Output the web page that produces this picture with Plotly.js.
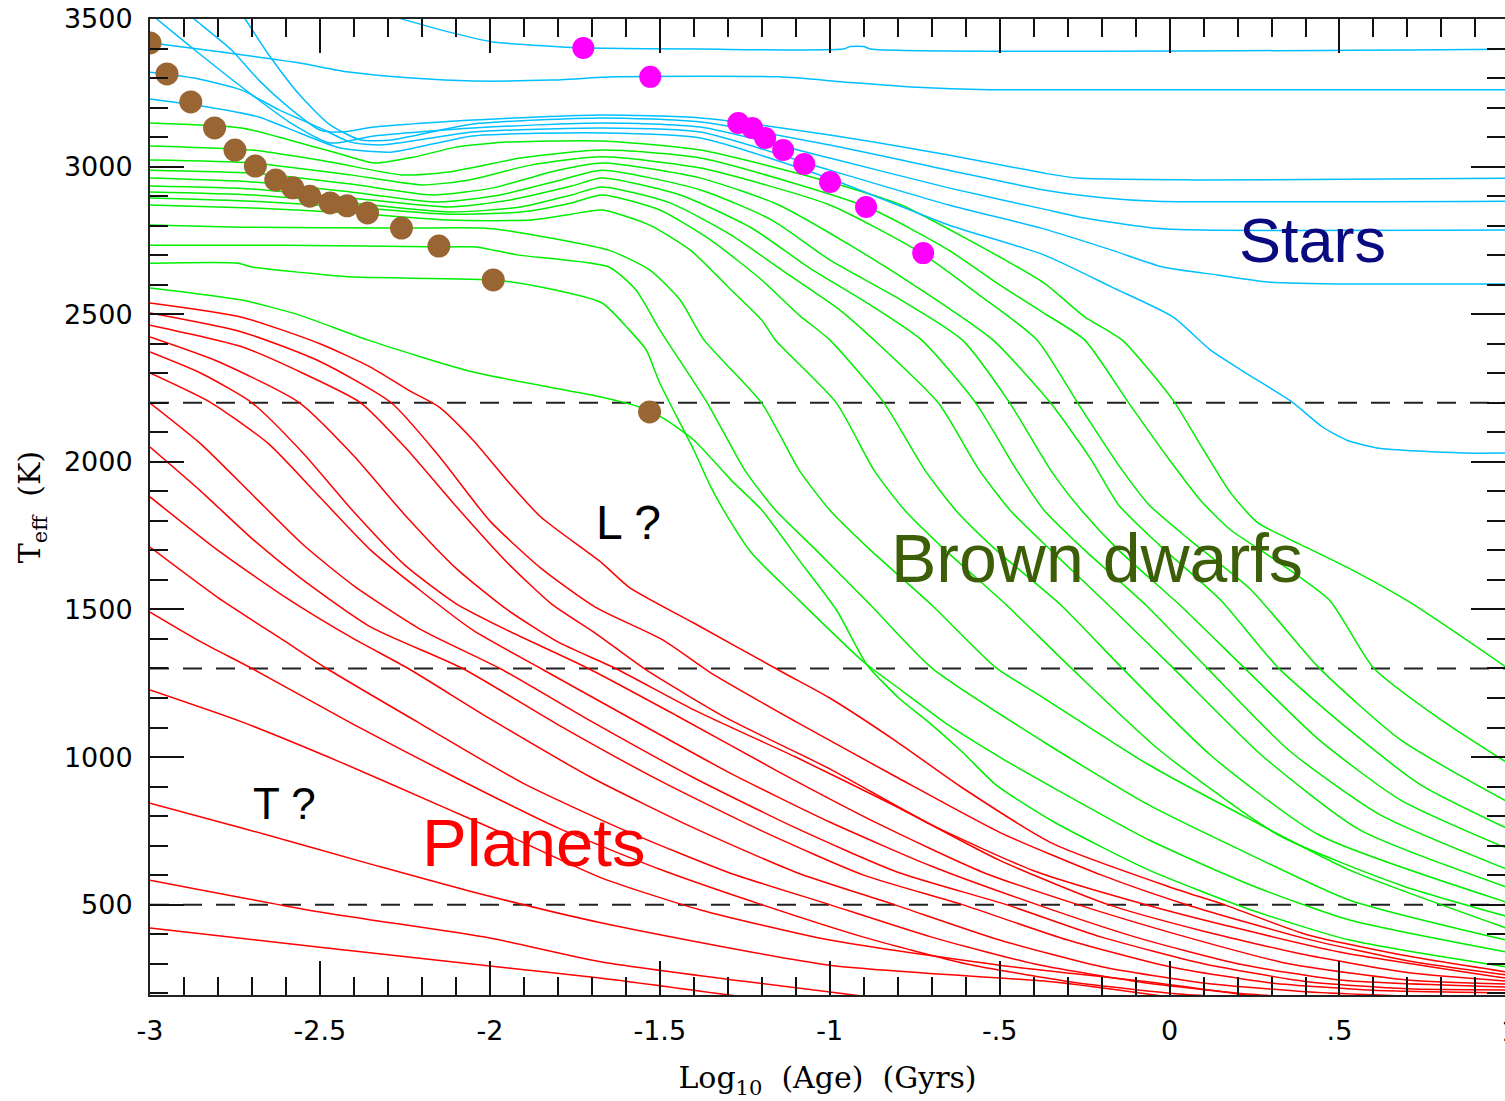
<!DOCTYPE html>
<html><head><meta charset="utf-8">
<script src="https://cdn.plot.ly/plotly-3.0.1.min.js"></script>
<style>html,body{margin:0;padding:0;background:#fff}</style>
</head><body><div id="chart" style="width:1505px;height:1101px"></div>
<script>
// ---- Stars (blue) : log10 age [Gyr] and Teff [K]
const starAges = [
  [-2.35,-2.25,-2.11,-1.99,-1.82,-1.72,-1.38,-0.96,-0.94,-0.90,-0.88,1.0],
  [-3.0,-2.79,-2.56,-2.42,-2.23,-2.05,-1.82,-1.63,-1.15,-0.96,-0.76,-0.53,1.0],
  [-2.92,-2.87,-2.76,-2.68,-2.59,-2.50,-2.44,-2.34,-2.05,-1.67,-1.38,-1.0,-0.65,-0.37,-0.27,0.07,0.52,1.0],
  [-2.77,-2.72,-2.65,-2.56,-2.47,-2.38,-2.29,-2.05,-1.67,-1.38,-1.0,-0.65,-0.37,-0.19,-0.04,1.0],
  [-3.0,-2.98,-2.85,-2.70,-2.59,-2.47,-2.34,-2.05,-1.67,-1.38,-1.0,-0.65,-0.37,-0.25,-0.05,0.10,1.0],
  [-3.0,-2.87,-2.73,-2.62,-2.50,-2.41,-2.32,-2.05,-1.67,-1.38,-1.0,-0.65,-0.37,-0.17,-0.02,0.14,0.29,0.54,1.0],
  [-3.0,-2.83,-2.68,-2.56,-2.44,-2.29,-2.05,-1.67,-1.38,-1.0,-0.65,-0.37,-0.17,0.01,0.12,0.22,0.36,0.45,0.52,0.61,0.86,1.0]
];
const starTeffs = [
  [3530,3497,3453,3422,3408,3402,3398,3398,3407,3407,3398,3398],
  [3420,3388,3351,3321,3300,3290,3293,3304,3304,3287,3270,3260,3260],
  [3548,3500,3395,3293,3199,3124,3117,3134,3158,3175,3165,3107,3039,2978,2961,2955,2957,2961],
  [3585,3500,3378,3243,3141,3090,3090,3144,3165,3151,3073,2988,2921,2894,2883,2883],
  [3520,3500,3378,3243,3151,3080,3104,3131,3148,3134,3029,2928,2856,2826,2792,2785,2785],
  [3320,3300,3259,3192,3131,3083,3073,3117,3131,3117,2988,2870,2789,2717,2660,2633,2609,2602,2602],
  [3229,3202,3168,3114,3063,3049,3104,3114,3097,2960,2802,2701,2592,2491,2379,2304,2203,2118,2074,2047,2030,2030]
];

// ---- Brown dwarfs (green)
const dwarfAges = [
  [-3.0,-2.73,-2.59,-2.45,-2.34,-2.22,-2.10,-1.95,-1.67,-1.38,-1.0,-0.79,-0.59,-0.37,-0.25,-0.14,0.01,0.10,0.18,0.26,0.34,0.52,0.71,0.99],
  [-3.0,-2.70,-2.47,-2.26,-2.12,-1.91,-1.67,-1.38,-0.89,-0.65,-0.50,-0.37,-0.25,-0.12,0.0,0.09,0.18,0.29,0.47,0.60,0.80,0.99],
  [-3.0,-2.70,-2.41,-2.20,-2.06,-1.88,-1.67,-1.38,-1.0,-0.73,-0.56,-0.39,-0.27,-0.15,-0.06,0.06,0.24,0.44,0.68,0.99],
  [-3.0,-2.70,-2.41,-2.17,-1.99,-1.82,-1.67,-1.38,-1.15,-0.94,-0.73,-0.52,-0.35,-0.23,-0.15,-0.03,0.15,0.32,0.53,0.74,0.99],
  [-3.0,-2.70,-2.41,-2.15,-1.97,-1.79,-1.67,-1.38,-1.17,-1.0,-0.79,-0.61,-0.47,-0.35,-0.26,-0.15,0.03,0.22,0.44,0.68,0.99],
  [-3.0,-2.70,-2.41,-2.12,-1.94,-1.76,-1.67,-1.44,-1.23,-1.06,-0.88,-0.73,-0.57,-0.45,-0.37,-0.25,-0.07,0.11,0.35,0.62,0.99],
  [-3.0,-2.70,-2.41,-2.12,-1.91,-1.76,-1.67,-1.47,-1.29,-1.12,-0.97,-0.87,-0.68,-0.56,-0.47,-0.35,-0.18,0.01,0.27,0.56,0.99],
  [-3.0,-2.70,-2.41,-2.12,-1.91,-1.76,-1.67,-1.50,-1.35,-1.20,-1.09,-1.0,-0.84,-0.72,-0.63,-0.51,-0.32,-0.14,0.12,0.44,0.99],
  [-3.0,-2.70,-2.41,-2.12,-1.88,-1.76,-1.67,-1.53,-1.41,-1.29,-1.20,-1.16,-0.98,-0.87,-0.78,-0.66,-0.48,-0.29,-0.03,0.32,0.68,0.99],
  [-3.0,-2.73,-2.26,-2.02,-1.92,-1.65,-1.53,-1.44,-1.37,-1.20,-1.09,-1.0,-0.88,-0.70,-0.51,-0.37,-0.06,0.24,0.53,0.99],
  [-3.0,-2.61,-2.12,-2.04,-1.92,-1.65,-1.57,-1.50,-1.36,-1.25,-1.16,-1.04,-0.88,-0.70,-0.37,-0.06,0.24,0.53,0.99],
  [-3.0,-2.74,-2.70,-2.48,-2.40,-1.99,-1.85,-1.67,-1.59,-1.54,-1.50,-1.40,-1.35,-1.30,-1.23,-1.10,-0.90,-0.79,-0.65,-0.50,-0.34,-0.06,0.24,0.53,0.99],
  [-3.0,-2.73,-2.56,-2.36,-2.05,-1.67,-1.56,-1.49,-1.40,-1.29,-1.20,-1.09,-0.98,-0.89,-0.79,-0.71,-0.61,-0.51,-0.34,-0.06,0.24,0.53,0.99]
];
const dwarfTeffs = [
  [3148,3131,3090,3046,3012,3033,3066,3083,3087,3056,2948,2870,2751,2606,2491,2413,2209,2040,1894,1793,1745,1644,1522,1305],
  [3070,3056,3016,2972,2982,3029,3056,3029,2863,2717,2599,2504,2413,2199,2006,1871,1769,1684,1532,1302,1125,983],
  [3022,3012,2972,2938,2955,3005,3033,2995,2870,2707,2565,2413,2199,1989,1854,1735,1566,1302,1058,851],
  [2988,2978,2941,2904,2928,2982,3012,2961,2870,2734,2582,2413,2199,2006,1854,1718,1532,1302,1091,905,760],
  [2961,2948,2914,2880,2904,2955,2988,2921,2819,2684,2548,2413,2199,1972,1837,1701,1515,1302,1058,854,692],
  [2934,2924,2894,2863,2887,2934,2961,2904,2792,2657,2531,2413,2199,1972,1837,1701,1515,1302,1024,804,621],
  [2914,2904,2877,2846,2863,2904,2931,2877,2768,2633,2514,2413,2199,1972,1837,1701,1515,1302,1007,753,560],
  [2894,2883,2863,2839,2846,2877,2904,2853,2751,2616,2497,2413,2199,1972,1837,1701,1515,1302,1007,736,509],
  [2870,2860,2843,2819,2819,2839,2853,2802,2717,2582,2480,2413,2199,1972,1837,1701,1515,1302,1024,736,566,461],
  [2802,2795,2792,2792,2778,2717,2650,2548,2413,2199,1972,1837,1701,1515,1302,1200,973,787,617,421],
  [2734,2734,2728,2728,2701,2660,2582,2447,2199,1972,1837,1701,1515,1302,1051,837,668,515,380],
  [2673,2673,2660,2633,2626,2616,2592,2538,2447,2379,2267,2040,1915,1813,1691,1542,1322,1227,1108,1000,895,719,566,448,340],
  [2589,2548,2497,2413,2304,2219,2186,2148,2074,1938,1837,1667,1498,1312,1193,1119,1017,905,780,617,482,380,289]
];

// ---- Planets (red)
const planetAges = [
  [-3.0,-2.73,-2.50,-2.35,-2.24,-2.15,-2.05,-1.95,-1.85,-1.67,-1.59,-1.40,-1.14,-1.0,-0.80,-0.61,-0.34,0.0,0.16,0.4,0.68,0.99],
  [-3.0,-2.73,-2.50,-2.29,-2.15,-2.0,-1.85,-1.69,-1.49,-1.35,-1.1,-0.8,-0.5,-0.2,0.05,0.4,0.7,0.99],
  [-3.0,-2.73,-2.55,-2.38,-2.25,-2.10,-1.95,-1.82,-1.69,-1.54,-1.3,-1.0,-0.7,-0.4,-0.07,0.2,0.5,0.99],
  [-3.0,-2.80,-2.56,-2.40,-2.25,-2.10,-1.95,-1.80,-1.63,-1.4,-1.1,-0.8,-0.5,-0.18,0.1,0.4,0.7,0.99],
  [-3.0,-2.85,-2.70,-2.55,-2.40,-2.25,-2.10,-1.95,-1.71,-1.45,-1.15,-0.85,-0.55,-0.27,0.05,0.35,0.7,0.99],
  [-3.0,-2.82,-2.65,-2.50,-2.35,-2.20,-2.05,-1.85,-1.6,-1.3,-1.0,-0.7,-0.39,-0.1,0.2,0.5,0.99],
  [-3.0,-2.85,-2.70,-2.55,-2.40,-2.20,-1.97,-1.7,-1.4,-1.1,-0.8,-0.48,-0.2,0.1,0.4,0.7,0.99],
  [-3.0,-2.85,-2.70,-2.55,-2.35,-2.08,-1.8,-1.5,-1.2,-0.9,-0.61,-0.3,0.0,0.3,0.6,0.99],
  [-3.0,-2.80,-2.60,-2.40,-2.24,-2.0,-1.7,-1.4,-1.1,-0.81,-0.5,-0.2,0.1,0.4,0.7],
  [-3.0,-2.80,-2.60,-2.48,-2.2,-1.9,-1.6,-1.3,-1.0,-0.7,-0.4,-0.1,0.2,0.4],
  [-3.0,-2.85,-2.70,-2.4,-2.1,-1.8,-1.5,-1.2,-0.9,-0.6,-0.3,0.0,0.2],
  [-3.0,-2.73,-2.44,-2.15,-1.95,-1.67,-1.38,-1.0,-0.50,-0.06,0.27],
  [-3.0,-2.73,-2.34,-2.05,-1.67,-1.0,-0.34,0.0],
  [-3.0,-2.50,-2.0,-1.67,-0.88],
  [-3.0,-2.50,-2.0,-1.67,-1.25]
];
const planetTeffs = [
  [2538,2490,2400,2320,2243,2186,2074,1938,1813,1657,1575,1454,1288,1200,1050,896,705,560,500,400,330,272],
  [2504,2440,2340,2200,2020,1800,1640,1508,1396,1285,1120,930,745,600,500,385,310,262],
  [2463,2390,2300,2200,2050,1850,1660,1520,1420,1295,1130,960,770,615,500,420,340,251],
  [2423,2340,2200,2020,1820,1640,1500,1390,1300,1160,1000,830,650,500,410,330,270,241],
  [2372,2300,2200,2030,1830,1650,1520,1430,1300,1140,950,770,610,500,390,300,245,231],
  [2301,2200,2060,1880,1700,1560,1430,1300,1140,950,780,630,500,390,300,245,221],
  [2199,2060,1890,1720,1580,1430,1300,1120,930,760,610,500,390,300,240,215,211],
  [2050,1900,1740,1600,1440,1300,1110,920,750,600,500,380,290,235,210,201],
  [1881,1700,1540,1400,1300,1130,930,760,610,500,380,290,235,205,190],
  [1711,1540,1390,1300,1110,910,750,610,500,390,300,240,200,185],
  [1491,1390,1300,1110,930,760,620,500,390,300,240,200,185],
  [1227,1119,983,837,736,590,482,380,295,238,187],
  [844,760,634,543,438,295,238,187],
  [583,475,387,306,187],
  [421,356,292,251,187]
];

// ---- 50% deuterium burned (brown dots) and 50% lithium burned (magenta dots)
const deutAges = [-3.0,-2.95,-2.88,-2.81,-2.75,-2.69,-2.63,-2.58,-2.53,-2.47,-2.42,-2.36,-2.26,-2.15,-1.99,-1.53];
const deutTeffs = [3419,3314,3219,3131,3056,3002,2955,2928,2900,2877,2867,2843,2792,2731,2616,2169];
const lithAges = [-1.725,-1.528,-1.269,-1.228,-1.190,-1.137,-1.075,-0.999,-0.893,-0.725];
const lithTeffs = [3402,3304,3148,3131,3097,3056,3009,2948,2863,2707];

// ---- spectral class boundaries and labels
const boundaryTeffs = [2200, 1300, 500];
const xTickVals = [-3,-2.5,-2,-1.5,-1,-0.5,0,0.5];
const xTickText = ['-3','-2.5','-2','-1.5','-1','-.5','0','.5'];
const regionLabels = [
  {text:'Stars', x:0.42, y:2751, color:'#0a0a80', size:63},
  {text:'Brown dwarfs', x:-0.213, y:1674, color:'#3b5e06', size:68},
  {text:'Planets', x:-1.872, y:709, color:'#ff0000', size:67},
  {text:'L ?', x:-1.593, y:1796, color:'#000000', size:48},
  {text:'T ?', x:-2.604, y:844, color:'#000000', size:44}
];

const traces = [];
function addFamily(ages, teffs, color, name) {
  ages.forEach((a, i) => {
    traces.push({x:a, y:teffs[i], mode:'lines', type:'scatter', name:name,
      line:{color:color, width:1.5, shape:'spline', smoothing:0.6}, hoverinfo:'skip', showlegend:false});
  });
}
addFamily(planetAges, planetTeffs, '#ff0000', 'Planets');
addFamily(dwarfAges, dwarfTeffs, '#00ee00', 'Brown dwarfs');
addFamily(starAges, starTeffs, '#00bfff', 'Stars');
traces.push({x:deutAges, y:deutTeffs, mode:'markers', type:'scatter', name:'50% D burned',
  marker:{color:'#996633', size:23}, showlegend:false});
traces.push({x:lithAges, y:lithTeffs, mode:'markers', type:'scatter', name:'50% Li burned',
  marker:{color:'#ff00ff', size:22}, showlegend:false});

const shapes = boundaryTeffs.map(t => ({type:'line', xref:'paper', x0:0, x1:1, yref:'y', y0:t, y1:t,
  layer:'below', line:{color:'#222', width:2, dash:'19px,14px'}}));

const annotations = regionLabels.map(l => ({text:l.text, x:l.x, y:l.y, xref:'x', yref:'y',
  showarrow:false, xanchor:'center', yanchor:'middle',
  font:{family:'Liberation Sans, Arial, sans-serif', size:l.size, color:l.color}}));
// tick label "1" sits at the cropped right edge of the frame
annotations.push({text:'1', x:1, y:0, xref:'paper', yref:'paper', xshift:4, yshift:-36, showarrow:false,
  xanchor:'center', yanchor:'middle', font:{family:'DejaVu Sans', size:27, color:'#000'}});

const tickFont = {family:'DejaVu Sans, sans-serif', size:27, color:'#000'};
const titleFont = {family:'DejaVu Serif, serif', size:30, color:'#000'};

const layout = {
  width:1505, height:1101,
  margin:{l:150, r:0, t:19, b:106},
  paper_bgcolor:'#fff', plot_bgcolor:'#fff',
  showlegend:false, hovermode:false,
  xaxis:{range:[-3, 0.987], tickvals:xTickVals, ticktext:xTickText,
    ticks:'inside', ticklen:34, tickwidth:2, tickcolor:'#111',
    minor:{dtick:0.1, tick0:0, ticks:'inside', ticklen:18, tickwidth:2, tickcolor:'#111', showgrid:false},
    showgrid:false, zeroline:false, showline:true, linecolor:'#222', linewidth:2, mirror:'allticks',
    tickfont:tickFont, ticklabelstandoff:11,
    title:{text:'Log<sub>10</sub>  (Age)  (Gyrs)', font:titleFont, standoff:22}},
  yaxis:{range:[194, 3500], tick0:0, dtick:500,
    ticks:'inside', ticklen:34, tickwidth:2, tickcolor:'#111',
    minor:{dtick:100, tick0:0, ticks:'inside', ticklen:18, tickwidth:2, tickcolor:'#111', showgrid:false},
    showgrid:false, zeroline:false, showline:true, linecolor:'#222', linewidth:2, mirror:'allticks',
    tickfont:tickFont, ticklabelstandoff:10,
    title:{text:'T<sub>eff</sub>  (K)', font:titleFont, standoff:14}},
  shapes:shapes, annotations:annotations
};

Plotly.newPlot('chart', traces, layout, {staticPlot:true, displayModeBar:false});
</script></body></html>
